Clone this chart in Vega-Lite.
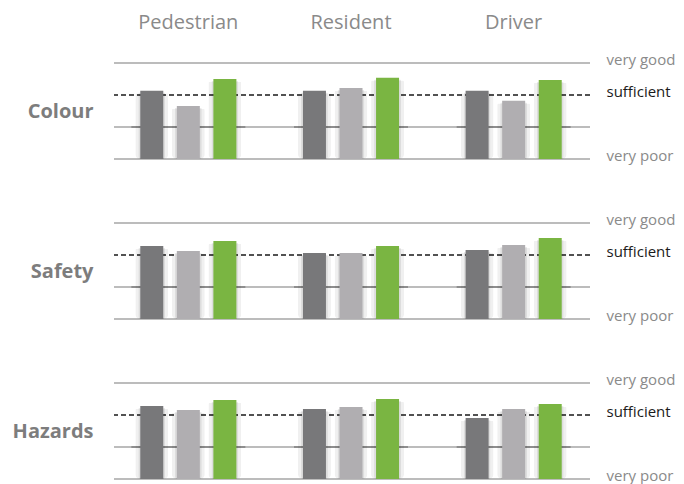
{
  "$schema": "https://vega.github.io/schema/vega-lite/v6.json",
  "background": "white",
  "padding": {"left": 12, "top": 12, "right": 5, "bottom": 3},
  "bounds": "flush",
  "spacing": 64,
  "data": {"values": [
    {"aspect": "Colour", "role": "Pedestrian", "series": "a", "value": 2.13},
    {"aspect": "Colour", "role": "Pedestrian", "series": "b", "value": 1.66},
    {"aspect": "Colour", "role": "Pedestrian", "series": "c", "value": 2.5},
    {"aspect": "Colour", "role": "Resident", "series": "a", "value": 2.13},
    {"aspect": "Colour", "role": "Resident", "series": "b", "value": 2.22},
    {"aspect": "Colour", "role": "Resident", "series": "c", "value": 2.54},
    {"aspect": "Colour", "role": "Driver", "series": "a", "value": 2.13},
    {"aspect": "Colour", "role": "Driver", "series": "b", "value": 1.82},
    {"aspect": "Colour", "role": "Driver", "series": "c", "value": 2.47},
    {"aspect": "Safety", "role": "Pedestrian", "series": "a", "value": 2.28},
    {"aspect": "Safety", "role": "Pedestrian", "series": "b", "value": 2.125},
    {"aspect": "Safety", "role": "Pedestrian", "series": "c", "value": 2.44},
    {"aspect": "Safety", "role": "Resident", "series": "a", "value": 2.06},
    {"aspect": "Safety", "role": "Resident", "series": "b", "value": 2.06},
    {"aspect": "Safety", "role": "Resident", "series": "c", "value": 2.28},
    {"aspect": "Safety", "role": "Driver", "series": "a", "value": 2.16},
    {"aspect": "Safety", "role": "Driver", "series": "b", "value": 2.31},
    {"aspect": "Safety", "role": "Driver", "series": "c", "value": 2.53},
    {"aspect": "Hazards", "role": "Pedestrian", "series": "a", "value": 2.28},
    {"aspect": "Hazards", "role": "Pedestrian", "series": "b", "value": 2.16},
    {"aspect": "Hazards", "role": "Pedestrian", "series": "c", "value": 2.47},
    {"aspect": "Hazards", "role": "Resident", "series": "a", "value": 2.19},
    {"aspect": "Hazards", "role": "Resident", "series": "b", "value": 2.25},
    {"aspect": "Hazards", "role": "Resident", "series": "c", "value": 2.5},
    {"aspect": "Hazards", "role": "Driver", "series": "a", "value": 1.91},
    {"aspect": "Hazards", "role": "Driver", "series": "b", "value": 2.19},
    {"aspect": "Hazards", "role": "Driver", "series": "c", "value": 2.34}
  ]},
  "vconcat": [
    {
      "width": 476, "height": 96,
      "transform": [{"filter": "datum.aspect == 'Colour'"}],
      "resolve": {"axis": {"y": "independent"}},
      "encoding": {
        "x": {"field": "role", "type": "nominal", "sort": ["Pedestrian", "Resident", "Driver"],
          "scale": {"range": [-7, 481], "paddingInner": 0, "paddingOuter": 0},
          "axis": {"orient": "top", "title": null, "labelAngle": 0, "domain": false, "ticks": false, "grid": false,
            "labelPadding": 31, "labelFont": "Open Sans", "labelFontSize": 20, "labelColor": "#8a8a8a"}}
      },
      "layer": [
        {"transform": [{"aggregate": [{"op": "count", "as": "n"}]}],
          "mark": {"type": "rule", "color": "#7a7a7a", "strokeWidth": 1.2},
          "encoding": {"x": null, "y": {"datum": 3, "type": "quantitative", "scale": {"domain": [0, 3], "nice": false},
            "axis": {"orient": "right", "title": null, "values": [0, 2, 3], "domain": false, "ticks": false, "grid": false,
              "labelPadding": 16, "labelOffset": -4, "labelAlign": "left",
              "labelExpr": "datum.value == 3 ? 'very good' : datum.value == 2 ? 'sufficient' : 'very poor'",
              "labelFont": "Open Sans", "labelFontSize": 15,
              "labelColor": {"condition": {"test": "datum.value == 2", "value": "#1a1a1a"}, "value": "#8a8a8a"}}}}},
        {"transform": [{"aggregate": [{"op": "count", "as": "n"}]}],
          "mark": {"type": "rule", "color": "#7a7a7a", "strokeWidth": 1.2},
          "encoding": {"x": null, "y": {"datum": 0, "type": "quantitative",
            "axis": {"orient": "left", "title": "Colour", "labels": false, "domain": false, "ticks": false, "grid": false,
              "titleAngle": 0, "titleAlign": "right", "titleBaseline": "middle", "titleX": -21, "titleY": 48,
              "titleFont": "Open Sans", "titleFontSize": 20, "titleFontWeight": "bold", "titleColor": "#7d7d7d"}}}},
        {"transform": [{"aggregate": [{"op": "count", "as": "n"}]}],
          "mark": {"type": "rule", "color": "#7a7a7a", "strokeWidth": 1.2},
          "encoding": {"x": null, "y": {"datum": 1, "type": "quantitative", "axis": null}}},
        {"transform": [{"aggregate": [{"op": "count", "as": "n"}]}],
          "mark": {"type": "rule", "color": "#1a1a1a", "strokeWidth": 1.3, "strokeDash": [5, 3]},
          "encoding": {"x": null, "y": {"datum": 2, "type": "quantitative", "axis": null}}},
        {"transform": [{"aggregate": [{"op": "count", "as": "n"}], "groupby": ["role"]}],
          "mark": {"type": "tick", "orient": "horizontal", "size": 114, "thickness": 2, "color": "#7a7a7a"},
          "encoding": {"y": {"datum": 1, "type": "quantitative", "axis": null}}},
        {"mark": {"type": "bar", "width": 33, "xOffset": 3, "yOffset": 3, "color": "#000000", "opacity": 0.06, "cornerRadius": 5},
          "encoding": {"xOffset": {"field": "series", "type": "nominal", "scale": {"paddingInner": 0.37, "paddingOuter": 0.91}},
            "y": {"field": "value", "type": "quantitative", "axis": null}}},
        {"mark": {"type": "bar", "width": 27, "xOffset": 2, "yOffset": 2, "color": "#000000", "opacity": 0.08, "cornerRadius": 3},
          "encoding": {"xOffset": {"field": "series", "type": "nominal"},
            "y": {"field": "value", "type": "quantitative", "axis": null}}},
        {"mark": {"type": "bar", "width": 23},
          "encoding": {"xOffset": {"field": "series", "type": "nominal"},
            "y": {"field": "value", "type": "quantitative", "axis": null},
            "color": {"field": "series", "type": "nominal", "legend": null,
              "scale": {"domain": ["a", "b", "c"], "range": ["#78787a", "#b0aeb1", "#7ab542"]}}}}
      ]
    },
    {
      "width": 476, "height": 96,
      "transform": [{"filter": "datum.aspect == 'Safety'"}],
      "resolve": {"axis": {"y": "independent"}},
      "encoding": {
        "x": {"field": "role", "type": "nominal", "sort": ["Pedestrian", "Resident", "Driver"],
          "scale": {"range": [-7, 481], "paddingInner": 0, "paddingOuter": 0}, "axis": null}
      },
      "layer": [
        {"transform": [{"aggregate": [{"op": "count", "as": "n"}]}],
          "mark": {"type": "rule", "color": "#7a7a7a", "strokeWidth": 1.2},
          "encoding": {"x": null, "y": {"datum": 3, "type": "quantitative", "scale": {"domain": [0, 3], "nice": false},
            "axis": {"orient": "right", "title": null, "values": [0, 2, 3], "domain": false, "ticks": false, "grid": false,
              "labelPadding": 16, "labelOffset": -4, "labelAlign": "left",
              "labelExpr": "datum.value == 3 ? 'very good' : datum.value == 2 ? 'sufficient' : 'very poor'",
              "labelFont": "Open Sans", "labelFontSize": 15,
              "labelColor": {"condition": {"test": "datum.value == 2", "value": "#1a1a1a"}, "value": "#8a8a8a"}}}}},
        {"transform": [{"aggregate": [{"op": "count", "as": "n"}]}],
          "mark": {"type": "rule", "color": "#7a7a7a", "strokeWidth": 1.2},
          "encoding": {"x": null, "y": {"datum": 0, "type": "quantitative",
            "axis": {"orient": "left", "title": "Safety", "labels": false, "domain": false, "ticks": false, "grid": false,
              "titleAngle": 0, "titleAlign": "right", "titleBaseline": "middle", "titleX": -21, "titleY": 48,
              "titleFont": "Open Sans", "titleFontSize": 20, "titleFontWeight": "bold", "titleColor": "#7d7d7d"}}}},
        {"transform": [{"aggregate": [{"op": "count", "as": "n"}]}],
          "mark": {"type": "rule", "color": "#7a7a7a", "strokeWidth": 1.2},
          "encoding": {"x": null, "y": {"datum": 1, "type": "quantitative", "axis": null}}},
        {"transform": [{"aggregate": [{"op": "count", "as": "n"}]}],
          "mark": {"type": "rule", "color": "#1a1a1a", "strokeWidth": 1.3, "strokeDash": [5, 3]},
          "encoding": {"x": null, "y": {"datum": 2, "type": "quantitative", "axis": null}}},
        {"transform": [{"aggregate": [{"op": "count", "as": "n"}], "groupby": ["role"]}],
          "mark": {"type": "tick", "orient": "horizontal", "size": 114, "thickness": 2, "color": "#7a7a7a"},
          "encoding": {"y": {"datum": 1, "type": "quantitative", "axis": null}}},
        {"mark": {"type": "bar", "width": 33, "xOffset": 3, "yOffset": 3, "color": "#000000", "opacity": 0.06, "cornerRadius": 5},
          "encoding": {"xOffset": {"field": "series", "type": "nominal", "scale": {"paddingInner": 0.37, "paddingOuter": 0.91}},
            "y": {"field": "value", "type": "quantitative", "axis": null}}},
        {"mark": {"type": "bar", "width": 27, "xOffset": 2, "yOffset": 2, "color": "#000000", "opacity": 0.08, "cornerRadius": 3},
          "encoding": {"xOffset": {"field": "series", "type": "nominal"},
            "y": {"field": "value", "type": "quantitative", "axis": null}}},
        {"mark": {"type": "bar", "width": 23},
          "encoding": {"xOffset": {"field": "series", "type": "nominal"},
            "y": {"field": "value", "type": "quantitative", "axis": null},
            "color": {"field": "series", "type": "nominal", "legend": null,
              "scale": {"domain": ["a", "b", "c"], "range": ["#78787a", "#b0aeb1", "#7ab542"]}}}}
      ]
    },
    {
      "width": 476, "height": 96,
      "transform": [{"filter": "datum.aspect == 'Hazards'"}],
      "resolve": {"axis": {"y": "independent"}},
      "encoding": {
        "x": {"field": "role", "type": "nominal", "sort": ["Pedestrian", "Resident", "Driver"],
          "scale": {"range": [-7, 481], "paddingInner": 0, "paddingOuter": 0}, "axis": null}
      },
      "layer": [
        {"transform": [{"aggregate": [{"op": "count", "as": "n"}]}],
          "mark": {"type": "rule", "color": "#7a7a7a", "strokeWidth": 1.2},
          "encoding": {"x": null, "y": {"datum": 3, "type": "quantitative", "scale": {"domain": [0, 3], "nice": false},
            "axis": {"orient": "right", "title": null, "values": [0, 2, 3], "domain": false, "ticks": false, "grid": false,
              "labelPadding": 16, "labelOffset": -4, "labelAlign": "left",
              "labelExpr": "datum.value == 3 ? 'very good' : datum.value == 2 ? 'sufficient' : 'very poor'",
              "labelFont": "Open Sans", "labelFontSize": 15,
              "labelColor": {"condition": {"test": "datum.value == 2", "value": "#1a1a1a"}, "value": "#8a8a8a"}}}}},
        {"transform": [{"aggregate": [{"op": "count", "as": "n"}]}],
          "mark": {"type": "rule", "color": "#7a7a7a", "strokeWidth": 1.2},
          "encoding": {"x": null, "y": {"datum": 0, "type": "quantitative",
            "axis": {"orient": "left", "title": "Hazards", "labels": false, "domain": false, "ticks": false, "grid": false,
              "titleAngle": 0, "titleAlign": "right", "titleBaseline": "middle", "titleX": -21, "titleY": 48,
              "titleFont": "Open Sans", "titleFontSize": 20, "titleFontWeight": "bold", "titleColor": "#7d7d7d"}}}},
        {"transform": [{"aggregate": [{"op": "count", "as": "n"}]}],
          "mark": {"type": "rule", "color": "#7a7a7a", "strokeWidth": 1.2},
          "encoding": {"x": null, "y": {"datum": 1, "type": "quantitative", "axis": null}}},
        {"transform": [{"aggregate": [{"op": "count", "as": "n"}]}],
          "mark": {"type": "rule", "color": "#1a1a1a", "strokeWidth": 1.3, "strokeDash": [5, 3]},
          "encoding": {"x": null, "y": {"datum": 2, "type": "quantitative", "axis": null}}},
        {"transform": [{"aggregate": [{"op": "count", "as": "n"}], "groupby": ["role"]}],
          "mark": {"type": "tick", "orient": "horizontal", "size": 114, "thickness": 2, "color": "#7a7a7a"},
          "encoding": {"y": {"datum": 1, "type": "quantitative", "axis": null}}},
        {"mark": {"type": "bar", "width": 33, "xOffset": 3, "yOffset": 3, "color": "#000000", "opacity": 0.06, "cornerRadius": 5},
          "encoding": {"xOffset": {"field": "series", "type": "nominal", "scale": {"paddingInner": 0.37, "paddingOuter": 0.91}},
            "y": {"field": "value", "type": "quantitative", "axis": null}}},
        {"mark": {"type": "bar", "width": 27, "xOffset": 2, "yOffset": 2, "color": "#000000", "opacity": 0.08, "cornerRadius": 3},
          "encoding": {"xOffset": {"field": "series", "type": "nominal"},
            "y": {"field": "value", "type": "quantitative", "axis": null}}},
        {"mark": {"type": "bar", "width": 23},
          "encoding": {"xOffset": {"field": "series", "type": "nominal"},
            "y": {"field": "value", "type": "quantitative", "axis": null},
            "color": {"field": "series", "type": "nominal", "legend": null,
              "scale": {"domain": ["a", "b", "c"], "range": ["#78787a", "#b0aeb1", "#7ab542"]}}}}
      ]
    }
  ],
  "config": {"view": {"stroke": null}}
}
